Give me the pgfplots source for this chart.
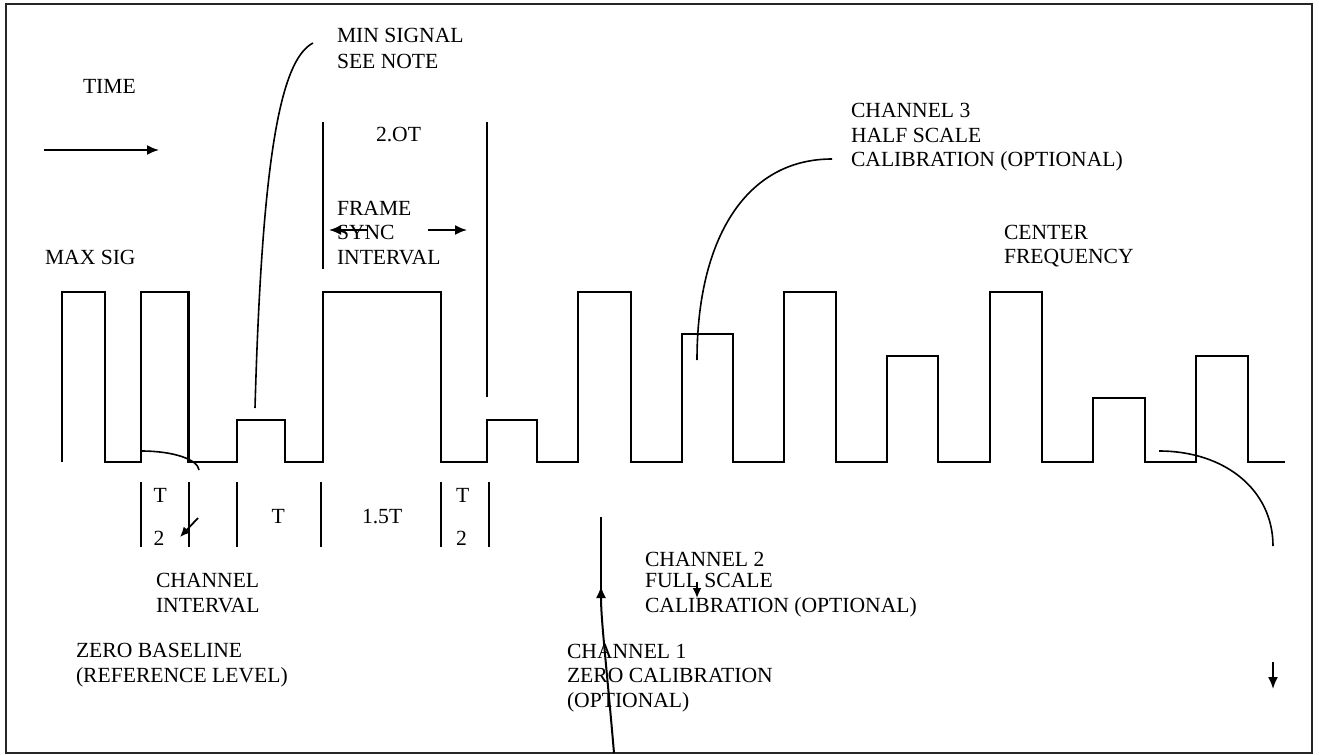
\documentclass[border=0pt]{standalone}
\usepackage{fontspec}
\setmainfont{Liberation Serif}
\usepackage{pgfplots}
\pgfplotsset{compat=1.18}
\usetikzlibrary{arrows.meta}
\tikzset{lbl/.style={inner sep=0pt, outer sep=0pt, anchor=base west, font=\fontsize{10.8bp}{12bp}\selectfont}}
\begin{document}
\begin{tikzpicture}
\begin{axis}[
  width=659.5bp, height=377.5bp, scale only axis,
  xmin=0, xmax=1319, ymin=0, ymax=755, y dir=reverse,
  hide axis, clip=false,
]
\path (axis cs:0,0) rectangle (axis cs:1319,755);
% border
\draw[line width=1bp, black!85] (axis cs:6,4.5) rectangle (axis cs:1311.5,753);
% waveform
\addplot[black, line width=1.1bp, line join=miter] coordinates {
(62,462) (62,292) (105,292) (105,462) (141,462) (141,292) (188.5,292) (188.5,462)
(237,462) (237,420) (285,420) (285,462) (323,462) (323,292) (441,292) (441,462)
(487,462) (487,420) (537,420) (537,462) (578,462) (578,292) (631,292) (631,462)
(682,462) (682,334) (733,334) (733,462) (784,462) (784,292) (836,292) (836,462)
(887,462) (887,356) (938,356) (938,462) (990,462) (990,292) (1042,292) (1042,462)
(1093,462) (1093,398) (1145,398) (1145,462) (1196,462) (1196,356) (1248,356) (1248,462)
(1285,462)
};
% frame sync vertical lines
\draw[line width=1bp] (axis cs:323,122) -- (axis cs:323,269);
\draw[line width=1bp] (axis cs:487,122) -- (axis cs:487,397);
% dividers
\draw[line width=1bp] (axis cs:141,482) -- (axis cs:141,547);
\draw[line width=1bp] (axis cs:188.5,482) -- (axis cs:188.5,547);
\draw[line width=1bp] (axis cs:237,482) -- (axis cs:237,547);
\draw[line width=1bp] (axis cs:320.7,482) -- (axis cs:320.7,547);
\draw[line width=1bp] (axis cs:440.7,482) -- (axis cs:440.7,547);
\draw[line width=1bp] (axis cs:489,482) -- (axis cs:489,547);
% arrows
\draw[line width=0.9bp, -{Latex[length=6bp,width=5bp]}] (axis cs:44,150) -- (axis cs:159,150);
\draw[line width=0.9bp, -{Latex[length=6bp,width=5bp]}] (axis cs:367,230) -- (axis cs:329,230);
\draw[line width=0.9bp, -{Latex[length=6bp,width=5bp]}] (axis cs:428,230) -- (axis cs:467,230);
\draw[line width=0.9bp, -{Latex[length=5bp,width=4.5bp]}] (axis cs:198,518) -- (axis cs:180,537);
\draw[line width=0.9bp, -{Latex[length=5bp,width=4.5bp]}] (axis cs:697,582) -- (axis cs:697,598);
\draw[line width=0.9bp, -{Latex[length=6bp,width=5bp]}] (axis cs:1273,662) -- (axis cs:1273,689);
% leader curves
\draw[line width=0.8bp] (axis cs:255,408) .. controls (axis cs:262,160) and (axis cs:280,60) .. (axis cs:313,43);
\draw[line width=0.8bp] (axis cs:697,360) .. controls (axis cs:697,240) and (axis cs:745,159) .. (axis cs:832,159);
\draw[line width=0.8bp] (axis cs:141,451) .. controls (axis cs:175,451) and (axis cs:198,460) .. (axis cs:199,470);
\draw[line width=0.8bp] (axis cs:1159,451) .. controls (axis cs:1225,451) and (axis cs:1273,490) .. (axis cs:1273,546);
\draw[line width=1bp, -{Latex[length=6bp,width=5bp]}] (axis cs:614,753) .. controls (axis cs:606,660) and (axis cs:601,620) .. (axis cs:601,586);
\draw[line width=1bp] (axis cs:601,590) -- (axis cs:601,517);
% texts
\node[lbl] at (axis cs:83,93) {TIME};
\node[lbl] at (axis cs:45,264) {MAX SIG};
\node[lbl] at (axis cs:337,43) {MIN SIGNAL};
\node[lbl] at (axis cs:337,68) {SEE NOTE};
\node[lbl] at (axis cs:376,141) {2.OT};
\node[lbl] at (axis cs:337,215) {FRAME};
\node[lbl] at (axis cs:337,239) {SYNC};
\node[lbl] at (axis cs:337,264) {INTERVAL};
\node[lbl] at (axis cs:851,117) {CHANNEL 3};
\node[lbl] at (axis cs:851,142) {HALF SCALE};
\node[lbl] at (axis cs:851,166) {CALIBRATION (OPTIONAL)};
\node[lbl] at (axis cs:1004,239) {CENTER};
\node[lbl] at (axis cs:1004,263) {FREQUENCY};
\node[lbl] at (axis cs:153.5,502) {T};
\node[lbl] at (axis cs:153.5,545) {2};
\node[lbl] at (axis cs:271.5,523) {T};
\node[lbl] at (axis cs:362,523) {1.5T};
\node[lbl] at (axis cs:456,502) {T};
\node[lbl] at (axis cs:456,545) {2};
\node[lbl] at (axis cs:156,587) {CHANNEL};
\node[lbl] at (axis cs:156,612) {INTERVAL};
\node[lbl] at (axis cs:76,657) {ZERO BASELINE};
\node[lbl] at (axis cs:76,682) {(REFERENCE LEVEL)};
\node[lbl] at (axis cs:645,566) {CHANNEL 2};
\node[lbl] at (axis cs:645,587) {FULL SCALE};
\node[lbl] at (axis cs:645,612) {CALIBRATION (OPTIONAL)};
\node[lbl] at (axis cs:567,658) {CHANNEL 1};
\node[lbl] at (axis cs:567,682) {ZERO CALIBRATION};
\node[lbl] at (axis cs:567,707) {(OPTIONAL)};
\end{axis}
\end{tikzpicture}
\end{document}
